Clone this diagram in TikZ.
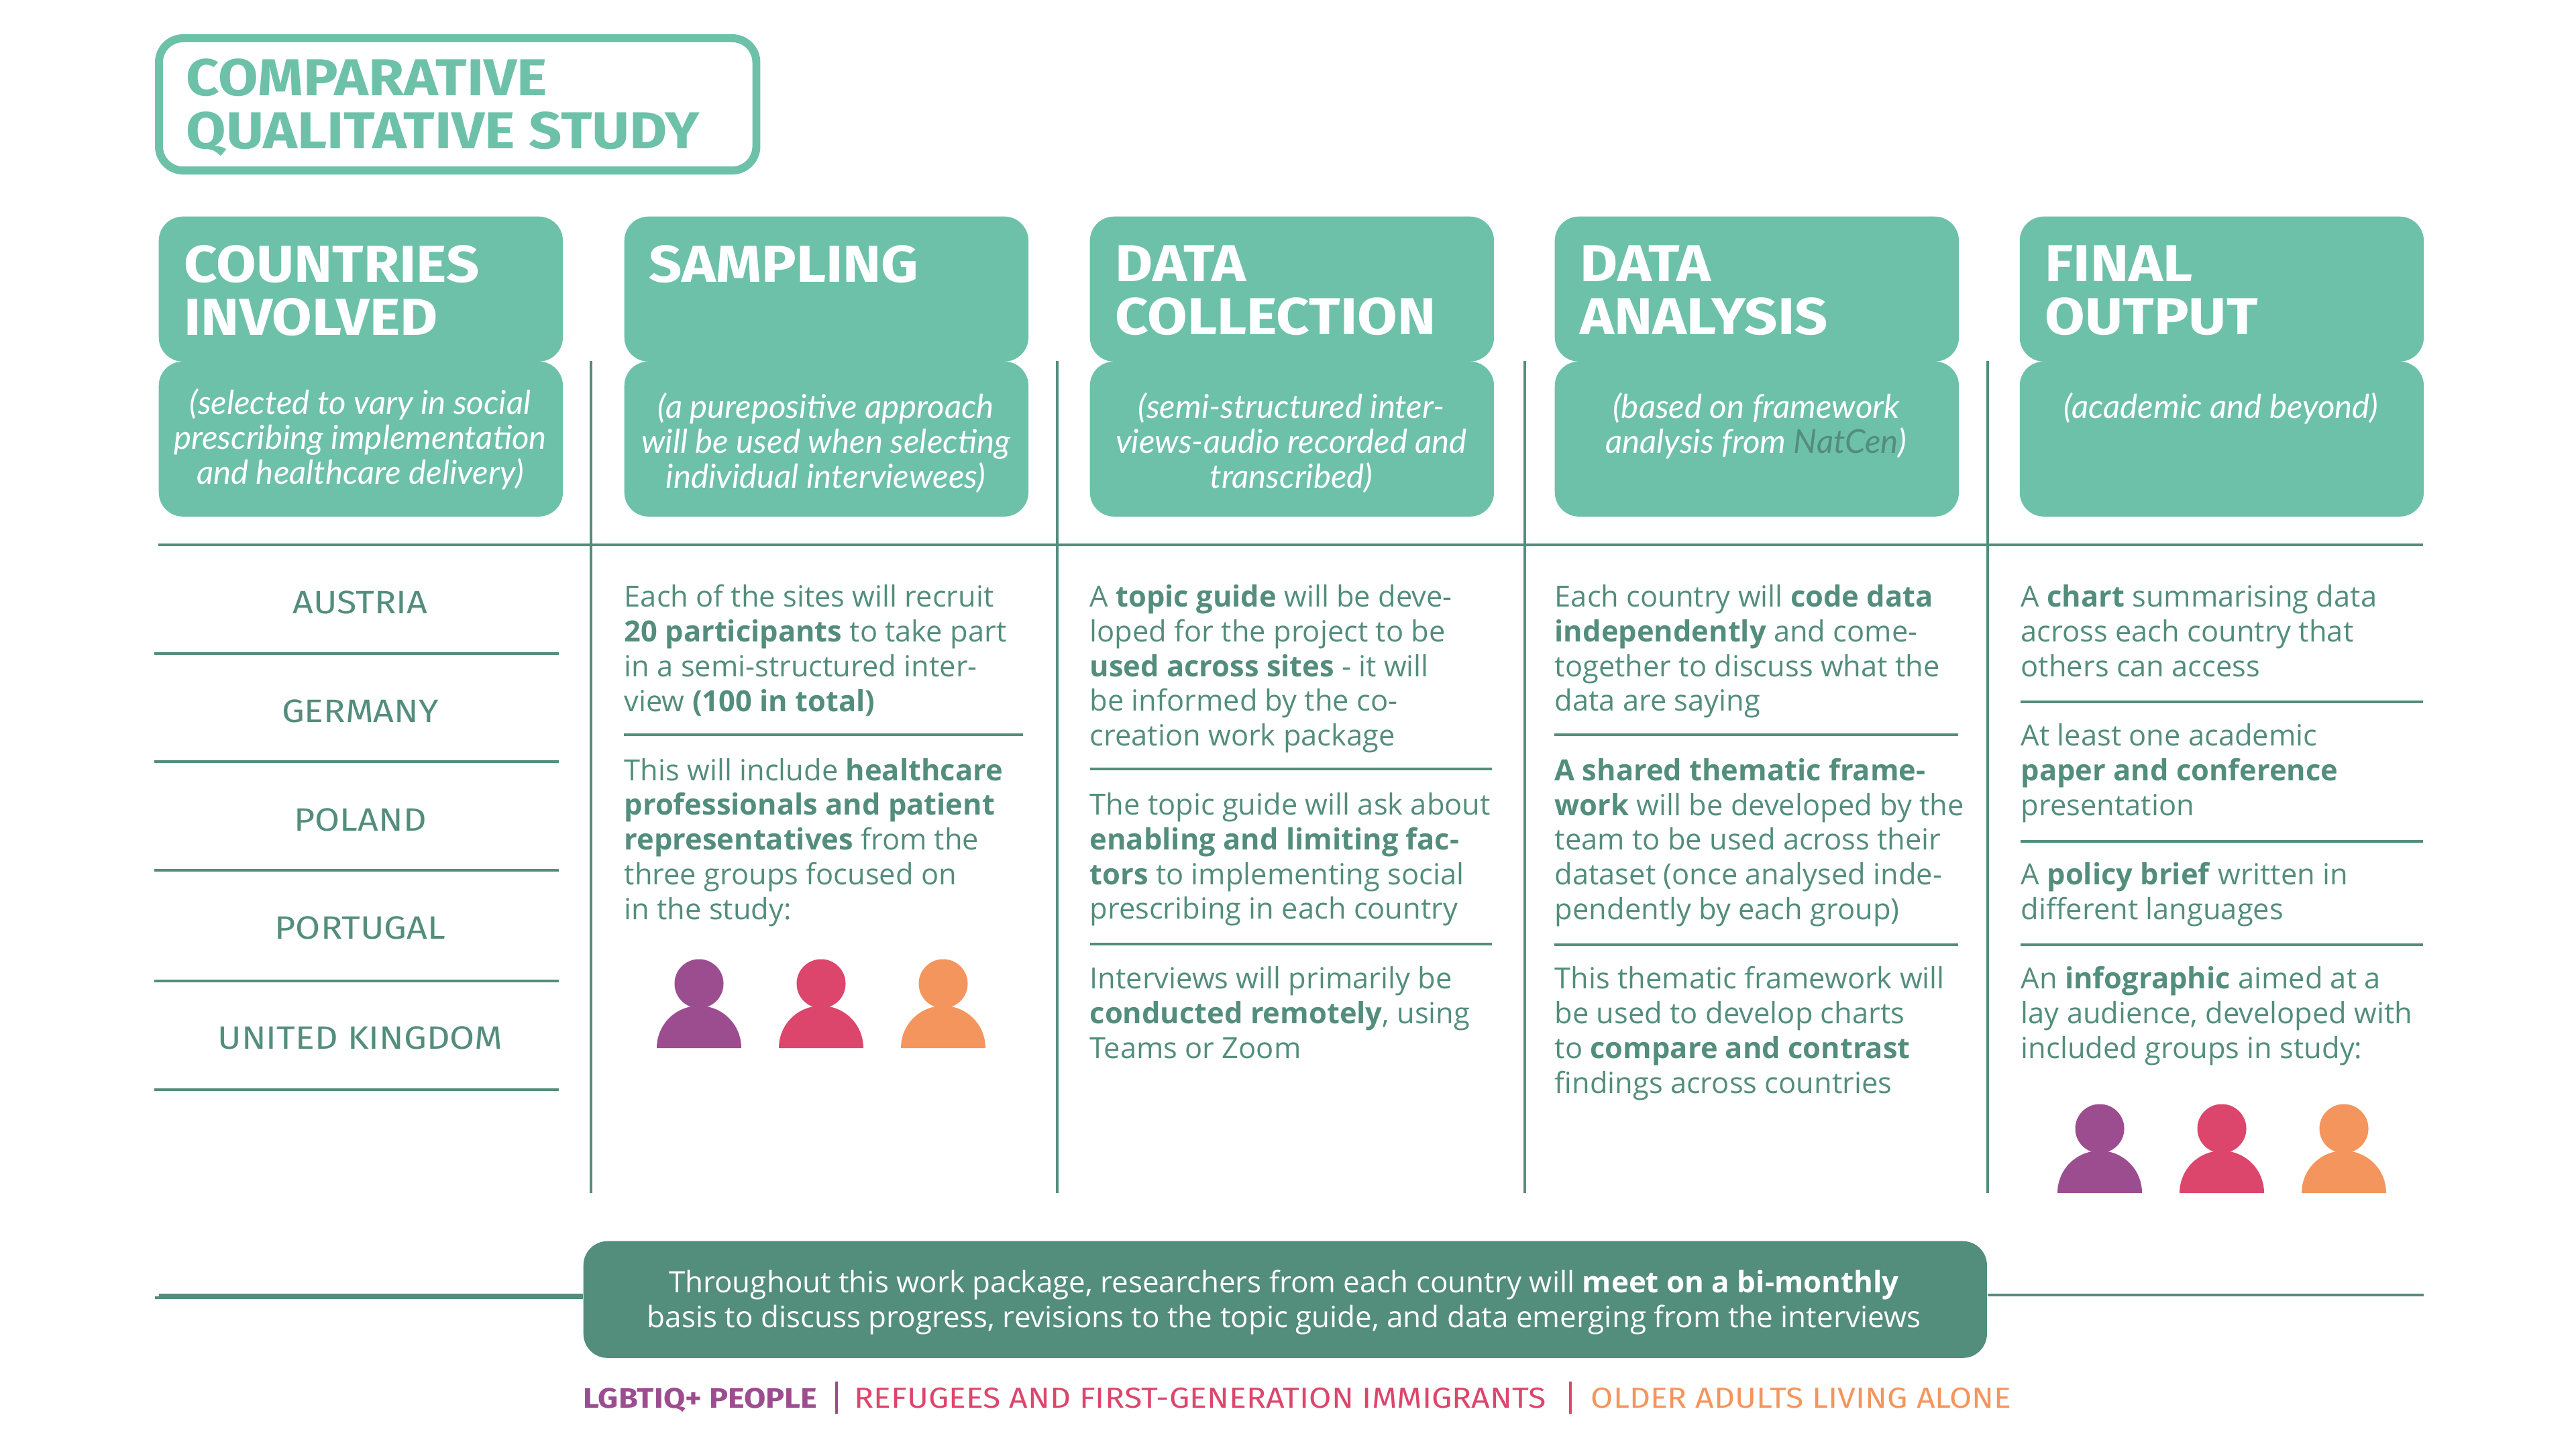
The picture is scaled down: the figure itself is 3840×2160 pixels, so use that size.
\documentclass[tikz,border=0pt]{standalone}
\usepackage{xcolor}
\usepackage{fontspec}
\setmainfont{Open Sans}
\newfontfamily\headfont[FakeStretch=1.115]{Fira Sans}
\newfontfamily\subfont{Lato}
\usepackage{tikz}
\usetikzlibrary{positioning}
\definecolor{paleteal}{HTML}{6EC1A9}
\definecolor{deepteal}{HTML}{538D7B}
\definecolor{lgbtq}{HTML}{9C4D8F}
\definecolor{refugee}{HTML}{DC466C}
\definecolor{older}{HTML}{F4955E}
\newcommand{\drawperson}[3]{%
    \fill[#3] (#1,#2-96) circle[radius=0.365cm];
    \fill[#3] (#1-63,#2) .. controls (#1-63,#2-35) and (#1-35,#2-63) .. (#1,#2-63)
        .. controls (#1+35,#2-63) and (#1+63,#2-35) .. (#1+63,#2) -- cycle;
}
\newcommand{\persontrio}[2]{%
    \drawperson{#1}{#2}{lgbtq}
    \drawperson{#1+182}{#2}{refugee}
    \drawperson{#1+364}{#2}{older}
}

\begin{document}
\begin{tikzpicture}[
        x=0.01cm,
        y=-0.01cm,
        titlebox/.style={
            draw=paleteal,
            line width=3.4pt,
            rounded corners=0.36cm,
            minimum width=8.9cm,
            minimum height=1.97cm,
            anchor=north west,
            inner sep=0pt
        },
        headbox/.style={
            fill=paleteal,
            rounded corners=0.36cm,
            minimum width=6.02cm,
            minimum height=2.16cm,
            anchor=north west,
            inner sep=0pt
        },
        subbox/.style={
            headbox,
            minimum height=2.31cm
        },
        headtext/.style={
            text=white,
            anchor=north west,
            inner sep=0pt,
            align=left,
            font=\headfont\bfseries\fontsize{22}{22.4}\selectfont,
            execute at begin node=\strut
        },
        titletext/.style={
            headtext,
            text=paleteal
        },
        subtext/.style={
            text=white,
            anchor=north,
            inner sep=0pt,
            align=center,
            font=\subfont\itshape\fontsize{14}{14.7}\selectfont,
            execute at begin node=\strut
        },
        body/.style={
            text=deepteal,
            anchor=north west,
            inner sep=0pt,
            align=left,
            font=\fontsize{12.35}{14.7}\selectfont,
            execute at begin node=\strut
        },
        bannertext/.style={
            text=white,
            anchor=north,
            inner sep=0pt,
            align=center,
            font=\fontsize{12.5}{14.7}\selectfont,
            execute at begin node=\strut
        },
        country/.style={
            text=deepteal,
            inner sep=0pt,
            font=\headfont\fontsize{13.7}{15}\selectfont
        },
        legend/.style={
            anchor=base west,
            inner sep=0pt,
            font=\headfont\fontsize{12.3}{14}\selectfont
        },
        rule/.style={
            draw=deepteal,
            line width=0.9pt
        }
    ]
        \useasboundingbox (0,0) rectangle (3840,2160);

        % Title
        \node[titlebox] (titlebox) at (231,51) {};
        \node[titletext] (title) at (277,87) {COMPARATIVE\\QUALITATIVE STUDY};

        % Column heads
        \node[headbox] (countrieshead) at (236,322) {};
        \node[headbox] (samplinghead) at (930,322) {};
        \node[headbox] (collectionhead) at (1624,322) {};
        \node[headbox] (analysishead) at (2317,322) {};
        \node[headbox] (outputhead) at (3010,322) {};
        \node[subbox] (countriessub) at (236,538) {};
        \node[subbox] (samplingsub) at (930,538) {};
        \node[subbox] (collectionsub) at (1624,538) {};
        \node[subbox] (analysissub) at (2317,538) {};
        \node[subbox] (outputsub) at (3010,538) {};

        \node[headtext] (countriestitle) at (274,365) {COUNTRIES\\INVOLVED};
        \node[headtext] (samplingtitle) at (967,365) {SAMPLING};
        \node[headtext] (collectiontitle) at (1662,365) {DATA\\COLLECTION};
        \node[headtext] (analysistitle) at (2355,365) {DATA\\ANALYSIS};
        \node[headtext] (outputtitle) at (3048,365) {FINAL\\OUTPUT};

        \node[subtext] (countriesnote) at (537,579) {(selected to vary in social\\prescribing implementation\\and healthcare delivery)};
        \node[subtext] (samplingnote) at (1231,585) {(a purepositive approach\\will be used when selecting\\individual interviewees)};
        \node[subtext] (collectionnote) at (1925,585) {(semi-structured inter-\\views-audio recorded and\\transcribed)};
        \node[subtext] (analysisnote) at (2618,585) {(based on framework\\analysis from \textcolor{deepteal}{NatCen})};
        \node[subtext] (outputnote) at (3311,585) {(academic and beyond)};

        % Rules
        \draw[rule] (236,812) -- (3612,812);
        \draw[rule] (881,538) -- (881,1778);
        \draw[rule] (1576,538) -- (1576,1778);
        \draw[rule] (2273,538) -- (2273,1778);
        \draw[rule] (2963,538) -- (2963,1778);

        % Countries
        \node[country] (austria) at (537,898) {AUSTRIA};
        \node[country] (germany) at (537,1060) {GERMANY};
        \node[country] (poland) at (537,1222) {POLAND};
        \node[country] (portugal) at (537,1383) {PORTUGAL};
        \node[country] (uk) at (537,1547) {UNITED KINGDOM};
        \foreach \y in {974,1135,1297,1462,1624}
            \draw[rule] (230,\y) -- (833,\y);

        % Sampling
        \node[body] (samplingone) at (930,871) {Each of the sites will recruit\\\textbf{20 participants} to take part\\in a semi-structured inter-\\view \textbf{(100 in total)}};
        \node[body] (samplingtwo) at (930,1129.5) {This will include \textbf{healthcare}\\\textbf{professionals and patient}\\\textbf{representatives} from the\\three groups focused on\\in the study:};
        \draw[rule] (930,1095) -- (1525,1095);
        \persontrio{1042}{1562}

        % Data collection
        \node[body] (collectionone) at (1624,871) {A \textbf{topic guide} will be deve-\\loped for the project to be\\\textbf{used across sites} - it will\\be informed by the co-\\creation work package};
        \node[body] (collectiontwo) at (1624,1181) {The topic guide will ask about\\\textbf{enabling and limiting fac-}\\\textbf{tors} to implementing social\\prescribing in each country};
        \node[body] (collectionthree) at (1624,1440) {Interviews will primarily be\\\textbf{conducted remotely}, using\\Teams or Zoom};
        \draw[rule] (1625,1146) -- (2224,1146);
        \draw[rule] (1625,1407) -- (2224,1407);

        % Data analysis
        \node[body] (analysisone) at (2317,871) {Each country will \textbf{code data}\\\textbf{independently} and come-\\together to discuss what the\\data are saying};
        \node[body] (analysistwo) at (2317,1129.5) {\textbf{A shared thematic frame-}\\\textbf{work} will be developed by the\\team to be used across their\\dataset (once analysed inde-\\pendently by each group)};
        \node[body] (analysisthree) at (2317,1440) {This thematic framework will\\be used to develop charts\\to \textbf{compare and contrast}\\findings across countries};
        \draw[rule] (2317,1095) -- (2919,1095);
        \draw[rule] (2317,1408) -- (2919,1408);

        % Final output
        \node[body] (outputone) at (3012,871) {A \textbf{chart} summarising data\\across each country that\\others can access};
        \node[body] (outputtwo) at (3012,1078) {At least one academic\\\textbf{paper and conference}\\presentation};
        \node[body] (outputthree) at (3012,1285) {A \textbf{policy brief} written in\\different languages};
        \node[body] (outputfour) at (3012,1440) {An \textbf{infographic} aimed at a\\lay audience, developed with\\included groups in study:};
        \draw[rule] (3012,1046) -- (3612,1046);
        \draw[rule] (3012,1254) -- (3612,1254);
        \draw[rule] (3012,1408) -- (3612,1408);
        \persontrio{3130}{1778}

        % Bottom banner
        \node[fill=deepteal, rounded corners=0.36cm, minimum width=20.91cm, minimum height=1.74cm, inner sep=0pt, anchor=north west] (meetbox) at (869,1849) {};
        \node[bannertext] (meettext) at (1914,1892) {Throughout this work package, researchers from each country will \textbf{meet on a bi-monthly}\\basis to discuss progress, revisions to the topic guide, and data emerging from the interviews};
        \coordinate (leftend) at (237,1930);
        \coordinate (leftendlow) at (231,1934);
        \coordinate (rightend) at (3613,1930);
        \draw[rule] (leftend) -- (leftend -| meetbox.west);
        \draw[rule] (leftendlow) -- (leftendlow -| meetbox.west);
        \draw[rule] (rightend -| meetbox.east) -- (rightend);

        % Legend
        \node[legend, text=lgbtq, font=\headfont\bfseries\fontsize{11.95}{14}\selectfont] (lgbtqlabel) at (869,2098) {LGBTIQ+ PEOPLE};
        \node[legend, text=refugee] (refugeelabel) at (1273,2098) {REFUGEES AND FIRST-GENERATION IMMIGRANTS};
        \node[legend, text=older] (olderlabel) at (2371,2098) {OLDER ADULTS LIVING ALONE};
        \draw[lgbtq, line width=1pt] (1247,2059) -- (1247,2107);
        \draw[refugee, line width=1pt] (2341,2059) -- (2341,2107);
    \end{tikzpicture}
\end{document}
